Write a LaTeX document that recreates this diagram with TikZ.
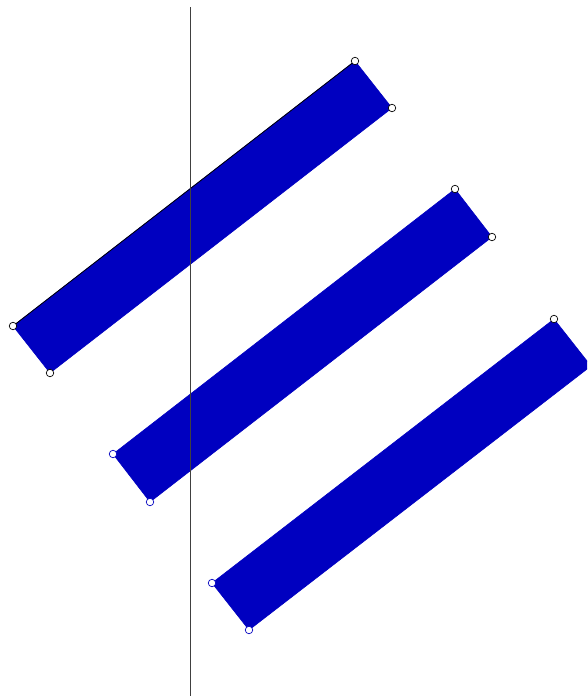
\documentclass[tikz,border=0pt]{standalone}
\usepackage{xcolor}
\usepackage{tikz}

\definecolor{barblue}{RGB}{0,0,192}

\begin{document}
\begin{tikzpicture}[
    x=1pt, y=-1pt,
    bar/.style={fill=barblue, draw=barblue, line width=0.6pt},
    axis/.style={draw=black!75, line width=0.9pt},
    edge/.style={draw=black, line width=0.8pt},
    dotblack/.style={circle, draw=black, fill=white, inner sep=0pt,
        minimum size=7.5pt, line width=0.7pt},
    dotblue/.style={circle, draw=barblue, fill=white, inner sep=0pt,
        minimum size=7.5pt, line width=0.7pt},
]
\useasboundingbox (0,0) rectangle (587,696);
\clip (0,0) rectangle (587,696);

% corners of the three bars
\coordinate (a1) at (13,326);
\coordinate (b1) at (355,61);
\coordinate (c1) at (392,108);
\coordinate (d1) at (50,373);

\coordinate (a2) at (113,454);
\coordinate (b2) at (455,189);
\coordinate (c2) at (492,237);
\coordinate (d2) at (150,502);

\coordinate (a3) at (212,583);
\coordinate (b3) at (554,319);
\coordinate (c3) at (591,366);
\coordinate (d3) at (249,630);

\coordinate (top) at (190,7);
\coordinate (bottom) at (190,696);

\fill[bar] (a1) -- (b1) -- (c1) -- (d1) -- cycle;
\fill[bar] (a2) -- (b2) -- (c2) -- (d2) -- cycle;
\fill[bar] (a3) -- (b3) -- (c3) -- (d3) -- cycle;

\draw[edge] (a1) -- (b1);
\draw[axis] (top) -- (bottom);

% corner markers
\node[dotblack] (pa1) at (a1) {};
\node[dotblack] (pb1) at (b1) {};
\node[dotblack] (pc1) at (c1) {};
\node[dotblack] (pd1) at (d1) {};

\node[dotblue] (pa2) at (a2) {};
\node[dotblack] (pb2) at (b2) {};
\node[dotblack] (pc2) at (c2) {};
\node[dotblue] (pd2) at (d2) {};

\node[dotblue] (pa3) at (a3) {};
\node[dotblack] (pb3) at (b3) {};
\node[dotblue] (pd3) at (d3) {};

\end{tikzpicture}
\end{document}
